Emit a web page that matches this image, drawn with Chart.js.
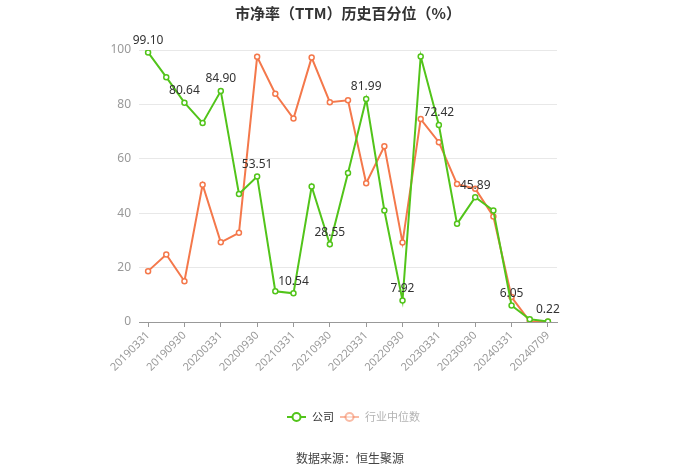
<!DOCTYPE html>
<html>
<head>
<meta charset="utf-8">
<script src="https://cdn.jsdelivr.net/npm/chart.js@4"></script>
<style>
  html, body { margin: 0; padding: 0; background: #fff; }
  #wrap { width: 700px; height: 474px; position: relative; }
</style>
</head>
<body>
<div id="wrap"><canvas id="chart"></canvas></div>
<script>
"use strict";

const chartTitle = "市净率（TTM）历史百分位（%）";
const sourceText = "数据来源：恒生聚源";

const dates = [
  "20190331", "20190630", "20190930", "20191231",
  "20200331", "20200630", "20200930", "20201231",
  "20210331", "20210630", "20210930", "20211231",
  "20220331", "20220630", "20220930", "20221231",
  "20230331", "20230630", "20230930", "20231231",
  "20240331", "20240630", "20240709",
];

const companyName = "公司";
const companyValues = [
  99.10, 90.0, 80.64, 73.2, 84.90, 47.1, 53.51, 11.3, 10.54, 49.8, 28.55, 54.8,
  81.99, 41.0, 7.92, 97.6, 72.42, 36.1, 45.89, 41.0, 6.05, 1.0, 0.22,
];

const industryName = "行业中位数";
const industryValues = [
  18.7, 24.8, 15.0, 50.5, 29.3, 32.8, 97.5, 83.9, 74.8, 97.2, 80.8, 81.5,
  51.0, 64.6, 29.2, 74.6, 66.1, 50.7, 49.0, 38.8, 9.2, 0.2, 0.1,
];

const yTicks = [0, 20, 40, 60, 80, 100];

const green = "#52c41a";
const orange = "#f4784b";

// labels only on every other green point
const valueLabels = {
  id: "valueLabels",
  afterDatasetsDraw(chart) {
    const ctx = chart.ctx;
    const meta = chart.getDatasetMeta(0);
    ctx.save();
    ctx.font = "12px 'Noto Sans', sans-serif";
    ctx.fillStyle = "#333";
    ctx.textAlign = "center";
    ctx.textBaseline = "middle";
    meta.data.forEach((pt, i) => {
      if (i % 2 !== 0) return;
      ctx.fillText(companyValues[i].toFixed(2), pt.x, pt.y - 12);
    });
    ctx.restore();
  },
};

const extraText = {
  id: "extraText",
  afterDraw(chart) {
    const ctx = chart.ctx;
    ctx.save();
    ctx.textBaseline = "middle";

    ctx.textAlign = "center";
    ctx.fillStyle = "#333";
    ctx.font = "bold 15px 'Noto Sans CJK SC', sans-serif";
    ctx.fillText(chartTitle, 348, 13);

    ctx.font = "12px 'Noto Sans CJK SC', sans-serif";
    ctx.fillStyle = "#444";
    ctx.fillText(sourceText, 350, 458);

    // legend
    const items = [
      { name: companyName, color: green, x: 287, alpha: 1 },
      { name: industryName, color: orange, x: 340, alpha: 0.5 },
    ];
    const ly = 417;
    items.forEach((it) => {
      ctx.globalAlpha = it.alpha;
      ctx.strokeStyle = it.color;
      ctx.lineWidth = 2;
      ctx.beginPath();
      ctx.moveTo(it.x, ly);
      ctx.lineTo(it.x + 19, ly);
      ctx.stroke();
      ctx.beginPath();
      ctx.arc(it.x + 9.5, ly, 4, 0, Math.PI * 2);
      ctx.fillStyle = "#fff";
      ctx.fill();
      ctx.stroke();
      ctx.fillStyle = it.alpha < 1 ? "#666" : "#333";
      ctx.textAlign = "left";
      ctx.font = "11px 'Noto Sans CJK SC', sans-serif";
      ctx.fillText(it.name, it.x + 25, ly);
    });
    ctx.restore();
  },
};

new Chart(document.getElementById("chart"), {
  type: "line",
  data: {
    labels: dates,
    datasets: [
      {
        label: companyName,
        data: companyValues,
        borderColor: green,
        backgroundColor: "#fff",
        borderWidth: 2,
        pointRadius: 2.5,
        pointBorderWidth: 1.5,
        pointBackgroundColor: "#fff",
        tension: 0,
      },
      {
        label: industryName,
        data: industryValues,
        borderColor: orange,
        backgroundColor: "#fff",
        borderWidth: 2,
        pointRadius: 2.5,
        pointBorderWidth: 1.5,
        pointBackgroundColor: "#fff",
        tension: 0,
      },
    ],
  },
  options: {
    responsive: true,
    maintainAspectRatio: false,
    animation: false,
    layout: { padding: { top: 50, left: 0, right: 143, bottom: 0 } },
    plugins: {
      legend: { display: false },
      title: { display: false },
      tooltip: { enabled: false },
    },
    scales: {
      x: {
        offset: true,
        afterFit(scale) { scale.height = 152; },
        grid: {
          drawOnChartArea: false,
          offset: false,
          tickLength: 5,
          color: (c) => (c.index % 2 === 0 ? "#999" : "rgba(0,0,0,0)"),
        },
        border: { color: "#999", width: 1 },
        ticks: {
          autoSkip: false,
          minRotation: 45,
          maxRotation: 45,
          padding: 2,
          color: "#999",
          font: { size: 11, family: "'Noto Sans', sans-serif" },
          callback(v, i) { return i % 2 === 0 ? dates[i] : ""; },
        },
      },
      y: {
        min: 0,
        max: 100,
        afterFit(scale) { scale.width = 139; },
        afterBuildTicks(scale) { scale.ticks = yTicks.map((v) => ({ value: v })); },
        grid: { color: "#e8e8e8", drawTicks: false },
        border: { display: false },
        ticks: {
          padding: 8,
          color: "#999",
          font: { size: 12, family: "'Noto Sans', sans-serif" },
        },
      },
    },
  },
  plugins: [valueLabels, extraText],
});
</script>
</body>
</html>
